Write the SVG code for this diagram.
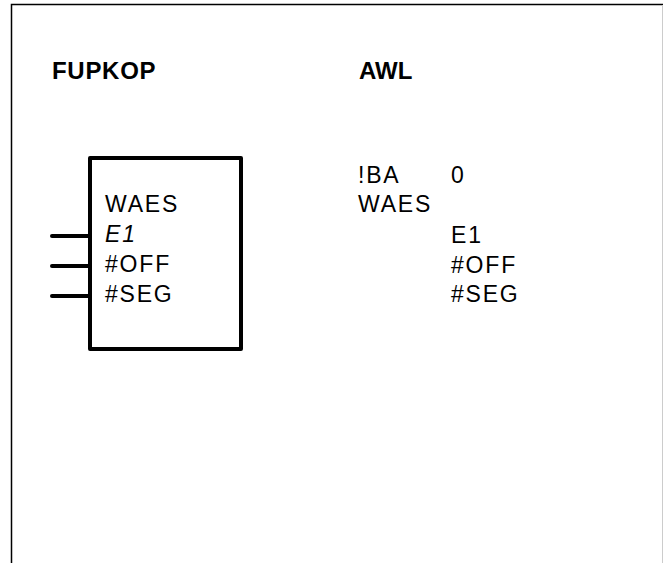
<svg xmlns="http://www.w3.org/2000/svg" width="664" height="563" viewBox="0 0 664 563">
<style>
.t{font-family:"Liberation Sans",Arial,sans-serif;font-size:23px;letter-spacing:1.8px;fill:#000}
.h{font-family:"Liberation Sans",Arial,sans-serif;font-size:24px;font-weight:bold;fill:#000}
.w{stroke:#000;stroke-width:4;stroke-linecap:round;fill:none}
</style>
<rect width="664" height="563" fill="#fff"/>
<path d="M11.5,563 V4.5 H663" fill="none" stroke="#000" stroke-width="1.5"/>
<line x1="662.5" y1="5" x2="662.5" y2="563" stroke="#ccc" stroke-width="1"/>
<text class="h" x="52" y="79" letter-spacing="0.7">FUPKOP</text>
<text class="h" x="359" y="79">AWL</text>
<g id="connectors">
<line class="w" x1="52" y1="236" x2="90" y2="236"/>
<line class="w" x1="52" y1="266" x2="90" y2="266"/>
<line class="w" x1="52" y1="296" x2="90" y2="296"/>
</g>
<g id="waes-box">
<rect x="90" y="158" width="151" height="191" fill="#fff" stroke="#000" stroke-width="4" stroke-linejoin="round"/>
<text class="t" x="105" y="212">WAES</text>
<text class="t" x="105" y="242" font-style="italic">E1</text>
<text class="t" x="105" y="272">#OFF</text>
<text class="t" x="105" y="302">#SEG</text>
</g>
<g id="awl">
<text class="t" x="358" y="183">!BA</text>
<text class="t" x="451" y="183">0</text>
<text class="t" x="358" y="212">WAES</text>
<text class="t" x="451" y="243">E1</text>
<text class="t" x="451" y="273">#OFF</text>
<text class="t" x="451" y="302">#SEG</text>
</g>
</svg>
